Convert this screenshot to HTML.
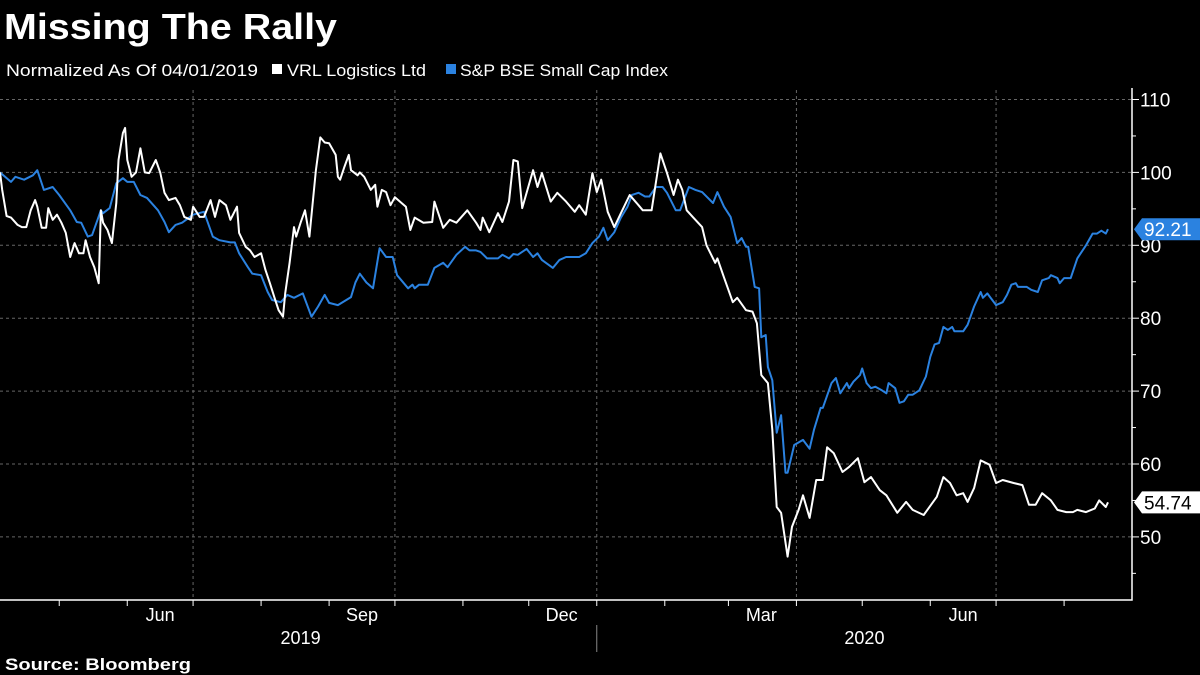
<!DOCTYPE html>
<html><head><meta charset="utf-8"><style>
body{margin:0;background:#000;width:1200px;height:675px;overflow:hidden;font-family:"Liberation Sans","DejaVu Sans",sans-serif;color:#fff}
svg{position:absolute;left:0;top:0}
</style></head><body>
<svg id="chart" width="1200" height="675">
<text x="4" y="39" font-size="36" font-weight="bold" fill="#fff" textLength="333" lengthAdjust="spacingAndGlyphs">Missing The Rally</text>
<g>
<text x="6" y="76" font-size="17" fill="#fff" textLength="252" lengthAdjust="spacingAndGlyphs">Normalized As Of 04/01/2019</text>
<rect x="272" y="64" width="10" height="10" fill="#fff"/>
<text x="287" y="76" font-size="17" fill="#fff" textLength="139" lengthAdjust="spacingAndGlyphs">VRL Logistics Ltd</text>
<rect x="446" y="64" width="10" height="10" fill="#2b82e0"/>
<text x="460" y="76" font-size="17" fill="#fff" textLength="208" lengthAdjust="spacingAndGlyphs">S&amp;P BSE Small Cap Index</text>
</g>
<g id="grid"></g>
<g id="axes"></g>
<g id="series"></g>
<g id="tags"></g>
<text x="5" y="670" font-size="17" font-weight="bold" fill="#fff" textLength="186" lengthAdjust="spacingAndGlyphs">Source: Bloomberg</text>
</svg>
<script>
const vrlDays=[3,4,6,8,11,13,15,17,19,20,22,24,25,27,29,31,33,35,37,39,41,42,44,46,48,49,50,52,54,56,57,59,60,61,63,65,67,69,71,74,76,78,80,83,85,87,90,91,94,96,99,101,103,106,108,111,112,115,117,119,122,124,126,128,130,132,133,135,137,138,140,142,144,147,149,151,153,156,157,158,160,162,163,166,167,169,172,174,175,177,179,181,183,188,190,192,196,200,201,205,208,211,216,220,222,223,226,230,232,235,237,239,241,246,248,250,254,257,261,265,267,270,273,275,277,280,283,286,290,294,296,300,304,307,310,312,314,316,319,323,325,329,330,333,337,339,343,346,348,350,353,355,357,359,362,364,367,369,372,375,378,380,383,387,390,394,397,400,404,407,412,416,419,424,430,433,436,439,442,444,447,450,454,457,460,465,469,472,475,478,482,485,489,492,494,498,502,504,507,508];
const vrlVals=[100,97.6,94,93.8,92.8,92.5,92.5,94.8,96.2,95.3,92.4,92.4,95.1,93.5,94.2,93.1,91.7,88.4,90.3,88.9,88.9,90.7,88.4,87,84.8,94.8,93.1,92.1,90.3,95.8,101.7,105.4,106.1,101.7,99.4,100,103.3,100,99.9,101.7,100,97.2,96.2,96.5,95.5,93.9,93.5,95.3,93.9,93.9,96.2,93.9,96.2,95.5,93.5,95.3,91.7,89.8,89.3,88.4,88.9,86.6,84.8,82.9,81.1,80.2,83.4,87.6,92.5,91.2,93.1,94.8,91.2,100.3,104.8,104.1,104,102.4,99.4,99,100.8,102.4,100.3,99.6,100,99.4,97.6,98.3,95.3,97.6,97.3,95.5,96.6,95.3,92.1,93.8,93.1,93.2,96,92.4,93.5,93.1,94.8,93.1,92.1,93.8,91.8,94.4,93.2,96,101.7,101.5,95.1,100.3,98,99.9,96,97.2,96,94.6,95.5,94.2,99.9,97.3,99,94.6,92.5,94.4,96.9,95.5,94.8,94.8,102.6,99.9,96.9,99,97.6,94.8,93.8,92.5,90,87.6,88.2,85.6,82.2,82.8,81.1,80.9,79.3,72.2,71.1,64.7,54.1,53.3,47.3,51.4,53.7,55.7,52.6,57.8,57.8,62.3,61.5,58.9,59.6,60.8,57.5,58.2,56.4,55.7,53.3,54.8,53.7,53,55.5,58.2,57.4,55.7,56,54.8,56.7,60.5,59.9,57.4,57.8,57.4,57.1,54.4,54.4,56,55,53.7,53.4,53.4,53.7,53.4,53.9,55,54.1,54.74];
const bseDays=[3,8,10,14,18,20,23,27,30,35,38,40,43,45,49,50,53,56,59,61,64,67,70,75,78,80,83,86,91,96,100,103,108,110,112,116,118,122,125,127,131,134,137,141,145,148,151,153,157,163,165,167,170,173,176,179,182,184,189,191,192,194,198,201,205,207,211,215,217,220,222,225,230,232,235,237,239,243,246,248,250,255,258,261,267,270,273,276,278,280,283,286,289,291,294,297,299,302,305,307,311,313,317,320,323,328,330,333,336,339,341,343,344,347,349,350,352,353,355,357,359,361,362,365,369,372,374,377,378,382,384,386,389,390,392,395,396,398,400,402,405,407,408,411,413,415,417,419,421,422,425,427,429,431,433,435,437,438,442,444,447,450,451,453,457,460,462,464,466,467,471,473,476,478,481,482,485,486,488,491,494,498,501,503,505,507,508];
const bseVals=[100,98.7,99.4,99,99.6,100.3,97.6,98,96.9,94.8,93.2,93.1,91.2,91.4,94.8,94.4,95.1,98.5,99.2,98.7,98.7,96.9,96.5,94.8,93.2,91.8,92.8,93.1,94.2,94.6,91.2,90.7,90.4,90.4,88.9,87,86.1,85.9,83.6,82.5,82.2,83.2,82.8,83.4,80.2,81.6,83.2,82.1,81.8,82.9,84.9,86.1,84.9,84.1,89.6,88.4,88.4,85.9,84.1,84.6,84.1,84.6,84.6,86.9,87.6,87,88.7,89.8,89.3,89.3,89.1,88.2,88.2,88.7,88.2,88.8,88.7,89.5,88.4,88.9,88,86.9,88,88.4,88.4,88.9,90.3,91.2,92.4,90.7,91.8,93.8,95.3,96.9,97.2,96.7,96.7,98,98,97.2,94.8,94.8,98,97.6,97.3,95.8,97.3,95.3,93.9,90.3,91,89.8,89.8,84.3,84.1,77.4,77.7,73.3,71.5,64.3,66.7,58.8,58.8,62.6,63.3,62.1,64.7,67.7,67.7,71.1,71.8,69.7,71.1,70.4,71.3,72.2,73.1,71.1,70.4,70.6,70.1,69.7,71.1,70.4,68.4,68.6,69.5,69.5,69.9,70.1,72,74.7,76.4,76.6,78.8,78.4,78.8,78.2,78.2,79.1,81.6,83.6,82.8,83.4,81.8,82.2,83.2,84.6,84.8,84.3,84.3,83.9,83.6,85.2,85.5,85.9,85.5,84.8,85.5,85.5,88.2,90,91.6,91.6,92,91.6,92.21];
const yTicks=[50,60,70,80,90,100,110];
const monthStarts=[30,61,91,122,153,183,214,244,275,306,335,366,396,427,457,488];
const quarterStarts=[91,183,275,366,457];
const monthLabels=["Jun","Sep","Dec","Mar","Jun"];
const monthLabelDays=[76,168,259,350,442];
const yearLabels=["2019","2020"];
const yearLabelDays=[140,397];

const NS="http://www.w3.org/2000/svg";
const X=d=>(d-3)*2.194;
const Y=v=>99.5+(110-v)*7.29;
const R=1132, B=600;
function mk(tag,attrs,parent){const e=document.createElementNS(NS,tag);for(const k in attrs)e.setAttribute(k,attrs[k]);parent.appendChild(e);return e;}
const grid=document.getElementById('grid'),axes=document.getElementById('axes'),series=document.getElementById('series'),tags=document.getElementById('tags');
yTicks.forEach(v=>{
  const l=mk('line',{x1:0,x2:R,y1:Y(v),y2:Y(v),stroke:'#666','stroke-width':1,'stroke-dasharray':'3,3'},grid);
  
  
  const t=mk('line',{x1:R,x2:R+7,y1:Y(v),y2:Y(v),stroke:'#fff'},axes);
  
  
  const tx=mk('text',{x:R+8,y:Y(v)+7,'font-size':19,fill:'#fff'},axes);
  tx.textContent=v;
  
  
});
for(let v=45;v<=110;v+=10){
  const t=mk('line',{x1:R,x2:R+4,y1:Y(v),y2:Y(v),stroke:'#fff'},axes);
  
  
}
quarterStarts.forEach(d=>{
  const l=mk('line',{x1:X(d),x2:X(d),y1:90,y2:B,stroke:'#666','stroke-dasharray':'3,3'},grid);
  
  
});
const ax=mk('path',{d:`M0 ${B}H${R}V88`,stroke:'#fff','stroke-width':1.5,fill:'none'},axes);


monthStarts.forEach(d=>{
  const t=mk('line',{x1:X(d),x2:X(d),y1:B,y2:B+6,stroke:'#fff'},axes);
  
  
});
monthLabels.forEach((m,i)=>{
  const t=mk('text',{x:X(monthLabelDays[i]),y:621,'font-size':18,fill:'#fff','text-anchor':'middle'},axes);
  t.textContent=m;
  
  
});
yearLabels.forEach((m,i)=>{
  const t=mk('text',{x:X(yearLabelDays[i]),y:644,'font-size':18,fill:'#fff','text-anchor':'middle'},axes);
  t.textContent=m;
  
  
});
const sep=mk('line',{x1:X(275),x2:X(275),y1:625,y2:652,stroke:'#888'},axes);


function line(days,vals,color,name){
  const d=days.map((x,i)=>(i?'L':'M')+X(x).toFixed(1)+' '+Y(vals[i]).toFixed(1)).join('');
  const p=mk('path',{d,stroke:color,'stroke-width':2,fill:'none','stroke-linejoin':'round'},series);
  
  
}
line(bseDays,bseVals,'#2b82e0','bse-line');
line(vrlDays,vrlVals,'#fff','vrl-line');
function tag(v,bg,fg,name){
  const y=Y(v);
  const p=mk('path',{d:`M1134 ${y}L1142 ${y-11}H1200V${y+11}H1142Z`,fill:bg},tags);
  
  
  const t=mk('text',{x:1144,y:y+7,'font-size':19,fill:fg},tags);
  t.textContent=v.toFixed(2);
  
  
}
tag(bseVals[bseVals.length-1],'#2b82e0','#fff','bse-last-value');
tag(vrlVals[vrlVals.length-1],'#fff','#000','vrl-last-value');
</script>
</body></html>
